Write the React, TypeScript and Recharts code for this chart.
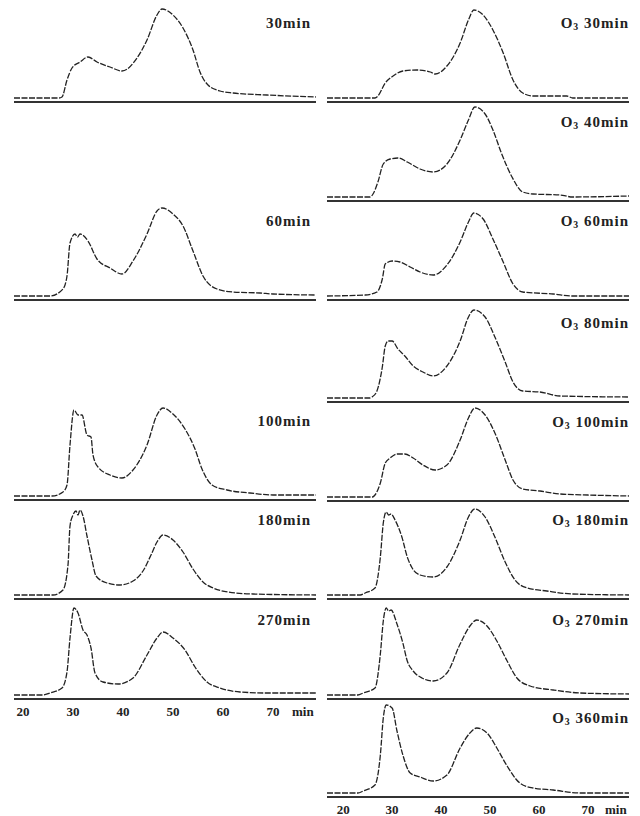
import React from 'react'
import { LineChart, Line, XAxis, YAxis } from 'recharts'

type Pt = [number, number]

// elution time (min), detector response — untreated runs (left column)
const ctl30: Pt[] = [[18.2, 0], [27.2, 0], [27.8, 1], [28.8, 18], [29.8, 30], [31.4, 36], [33, 41], [34.8, 36], [37.4, 31], [39.8, 27], [42.8, 40], [44.8, 58], [46.8, 83], [47.8, 89], [50, 83], [52, 70], [54, 48], [55.4, 26], [57, 13], [59.4, 7], [62, 5], [68.8, 3], [78.6, 1]]
const ctl60: Pt[] = [[18.2, 0], [25.4, 0], [28, 7], [28.8, 20], [29.4, 53], [30.4, 62], [30.9, 59], [31.4, 62], [33, 55], [34.8, 37], [37.4, 28], [39.8, 22], [42, 35], [44.8, 62], [46.8, 85], [47.8, 88], [50, 82], [52, 70], [54, 45], [56, 20], [58.8, 7], [62, 4], [67.4, 3], [70, 2], [78.6, 1]]
const ctl100: Pt[] = [[18.2, 0], [25.8, 0], [28, 4], [28.8, 11], [29.4, 51], [30.2, 86], [31, 81], [31.8, 81], [32.8, 61], [33.6, 59], [34, 41], [35, 29], [37.4, 21], [39.8, 18], [42, 26], [44.8, 51], [46.8, 81], [48, 88], [50, 82], [52.4, 67], [54.4, 47], [55.8, 27], [57.8, 11], [60.8, 6], [65.4, 3], [70, 1], [78.6, 1]]
const ctl180: Pt[] = [[18.2, 0], [26, 0], [28, 5], [29, 30], [29.4, 69], [30, 80], [30.6, 84], [31, 80], [31.4, 85], [32, 79], [32.8, 59], [33.8, 35], [34.6, 19], [36.8, 12], [39.4, 10], [42, 14], [44, 24], [45.6, 40], [46.8, 53], [48, 60], [50, 55], [52, 43], [54, 26], [56, 13], [58, 7], [61, 3], [66, 1], [78.6, 0]]
const ctl270: Pt[] = [[18.2, 0], [24, 0], [25.4, 2], [27.8, 7], [28.8, 23], [29.4, 57], [30.2, 87], [31, 82], [32, 65], [32.8, 60], [33.6, 47], [34.4, 22], [36, 13], [39, 11], [42, 17], [44.8, 40], [46.8, 57], [48, 63], [50, 57], [52.4, 45], [54.4, 28], [56.8, 13], [59.4, 7], [63.4, 3], [68.8, 2], [78.6, 2]]

// ozone treated runs (right column)
const o3_30: Pt[] = [[16.7, 0], [26.5, 0], [27.1, 2], [28.6, 15], [30.2, 22], [32.2, 27], [35.1, 28], [37.8, 26], [38.8, 24], [41.2, 32], [43.9, 55], [45.6, 78], [46.7, 88], [48.6, 83], [50.6, 68], [52.7, 45], [54.7, 18], [56.7, 5], [58.8, 2], [62.9, 2], [65.7, 2], [66.9, 0], [78.4, 0]]
const o3_40: Pt[] = [[16.7, 0], [25.5, 0], [26.1, 3], [27.1, 15], [28.2, 33], [29.6, 38], [31.2, 39], [33.1, 35], [35.7, 28], [38.4, 25], [41.2, 33], [43.9, 57], [45.6, 77], [46.9, 90], [49, 83], [50.6, 67], [52.4, 43], [54.5, 20], [56.7, 5], [58.8, 3], [64.3, 2], [66.9, 0], [78.4, 1]]
const o3_60: Pt[] = [[16.7, 0], [24.5, 1], [26.9, 4], [28, 17], [28.6, 32], [30, 35], [31.6, 34], [33.7, 29], [35.7, 24], [38.4, 21], [41.2, 31], [43.9, 54], [45.6, 74], [46.7, 83], [48.6, 77], [50.6, 57], [52.7, 34], [54.7, 12], [56.7, 4], [62.9, 2], [66.9, 0], [78.4, 0]]
const o3_80: Pt[] = [[16.7, 0], [25.3, 0], [25.9, 1], [26.9, 7], [28, 31], [28.6, 52], [29.2, 57], [30, 57], [31.2, 49], [32.6, 42], [34.3, 32], [36.3, 26], [38.4, 22], [41.2, 32], [43.9, 57], [45.6, 81], [46.7, 88], [49, 81], [51, 61], [53.1, 36], [54.7, 16], [56.7, 7], [60.2, 6], [64.3, 2], [78.4, 1]]
const o3_100: Pt[] = [[16.7, 0], [26, 0], [26.5, 2], [27.6, 14], [28.6, 34], [29.6, 39], [31, 43], [32.6, 43], [34.3, 39], [36.3, 32], [38.8, 27], [41.2, 32], [43.9, 57], [45.6, 79], [46.9, 89], [49, 82], [51, 64], [53.1, 37], [54.7, 17], [56.7, 8], [60.2, 6], [64.3, 3], [70, 2], [78.4, 1]]
const o3_180: Pt[] = [[16.7, 0], [23.5, 0], [24.5, 2], [26.5, 7], [27.6, 38], [28.2, 72], [28.8, 83], [29.3, 80], [29.8, 81], [30.6, 75], [32, 58], [33.1, 38], [34.1, 27], [35.7, 20], [38.4, 18], [41.2, 28], [43.9, 55], [45.6, 78], [46.9, 86], [49, 78], [51, 58], [53.1, 33], [55.1, 15], [57.6, 7], [61.6, 4], [66.9, 1], [78.4, 0]]
const o3_270: Pt[] = [[16.7, 0], [23, 0], [24.1, 2], [26.5, 7], [27.6, 41], [28.2, 74], [28.8, 87], [29.3, 84], [29.8, 85], [31, 71], [32.2, 52], [33.1, 34], [34.3, 24], [36.1, 17], [38.4, 14], [41.2, 22], [43.9, 51], [45.9, 69], [47.3, 75], [49.4, 69], [51.4, 54], [53.5, 34], [55.5, 17], [58.2, 9], [62.9, 5], [68.4, 2], [78.4, 1]]
const o3_360: Pt[] = [[16.7, 0], [23, 0], [24.1, 2], [26.5, 8], [27.6, 38], [28.2, 75], [28.8, 88], [30, 85], [31, 62], [32.2, 38], [33.7, 20], [35.7, 16], [38.4, 12], [41.2, 18], [43.9, 45], [45.9, 60], [47.3, 65], [49.4, 60], [51.4, 45], [53.5, 27], [56.1, 10], [58.8, 5], [62.9, 3], [68.4, 0], [78.4, 0]]

const tickMinutes = [20, 30, 40, 50, 60, 70]

const serif = '"Liberation Serif", "DejaVu Serif", serif'
const ink = '#222'

const columns = {
  L: { left: 14, width: 302, domain: [18.2, 78.6] as [number, number] },
  R: { left: 327, width: 302, domain: [16.7, 78.4] as [number, number] },
}

const PLOT_H = 98

interface PanelProps {
  points: Pt[]
  label: React.ReactNode
  col: 'L' | 'R'
  sep: number // y of the baseline rule
  axis?: boolean
}

const Panel = ({ points, label, col, sep, axis }: PanelProps) => {
  const c = columns[col]
  const axisH = axis ? 24 : 2
  const data = points.map(([t, h]) => ({ t, h }))
  return (
    <>
      <div style={{ position: 'absolute', left: c.left, top: sep - PLOT_H }}>
        <LineChart width={c.width} height={PLOT_H + axisH} data={data} margin={{ top: 0, right: 0, bottom: 0, left: 0 }}>
          <XAxis
            dataKey="t"
            type="number"
            domain={c.domain}
            ticks={tickMinutes}
            interval={0}
            allowDataOverflow
            height={axisH}
            axisLine={{ stroke: '#333', strokeWidth: 2 }}
            tickLine={false}
            tick={axis ? { fill: ink, fontSize: 13, fontFamily: serif, fontWeight: 'bold' } : false}
          />
          <YAxis hide domain={[-4, 94]} allowDataOverflow />
          <Line
            dataKey="h"
            type="monotone"
            stroke={ink}
            strokeWidth={1.3}
            strokeDasharray="6 1.5"
            dot={false}
            isAnimationActive={false}
          />
        </LineChart>
      </div>
      <div
        style={{
          position: 'absolute',
          right: col === 'L' ? 640 - 311 : 640 - 629,
          top: sep - 79 - 9,
          lineHeight: '18px',
          fontFamily: serif,
          fontWeight: 'bold',
          fontSize: 15,
          letterSpacing: 1,
          color: ink,
          whiteSpace: 'nowrap',
        }}
      >
        {label}
      </div>
      {axis && (
        <div
          style={{
            position: 'absolute',
            left: col === 'L' ? 292 : 605,
            top: sep + 5,
            fontFamily: serif,
            fontWeight: 'bold',
            fontSize: 13,
            color: ink,
          }}
        >
          min
        </div>
      )}
    </>
  )
}

const O3 = ({ t }: { t: string }) => (
  <span>
    O<span style={{ fontSize: '0.65em', verticalAlign: '-0.25em' }}>3</span> {t}
  </span>
)

export default function App() {
  return (
    <div style={{ position: 'absolute', left: 0, top: 0, width: 640, height: 816, background: '#fff', overflow: 'hidden' }}>
      <Panel points={ctl30} label="30min" col="L" sep={102} />
      <Panel points={ctl60} label="60min" col="L" sep={300} />
      <Panel points={ctl100} label="100min" col="L" sep={500} />
      <Panel points={ctl180} label="180min" col="L" sep={599} />
      <Panel points={ctl270} label="270min" col="L" sep={699} axis />

      <Panel points={o3_30} label={<O3 t="30min" />} col="R" sep={102} />
      <Panel points={o3_40} label={<O3 t="40min" />} col="R" sep={201} />
      <Panel points={o3_60} label={<O3 t="60min" />} col="R" sep={300} />
      <Panel points={o3_80} label={<O3 t="80min" />} col="R" sep={402} />
      <Panel points={o3_100} label={<O3 t="100min" />} col="R" sep={501} />
      <Panel points={o3_180} label={<O3 t="180min" />} col="R" sep={599} />
      <Panel points={o3_270} label={<O3 t="270min" />} col="R" sep={699} />
      <Panel points={o3_360} label={<O3 t="360min" />} col="R" sep={797} axis />
    </div>
  )
}
